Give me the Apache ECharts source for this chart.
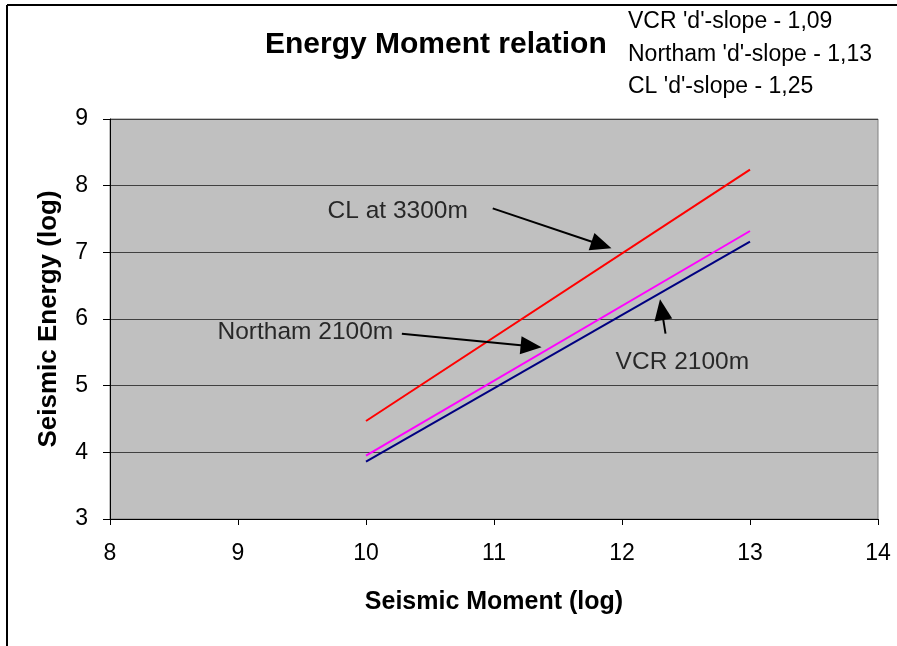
<!DOCTYPE html>
<html><head><meta charset="utf-8">
<script src="https://cdn.jsdelivr.net/npm/echarts@6/dist/echarts.min.js"></script>
<style>html,body{margin:0;padding:0;background:#fff}#c{width:897px;height:646px}</style>
</head><body><div id="c"></div>
<script>
// Data (log seismic moment vs log seismic energy)
const momentX = [10, 13];
const vcrY = [3.86, 7.16];
const northamY = [3.95, 7.32];
const clY = [4.47, 8.24];
const xTicks = [8, 9, 10, 11, 12, 13, 14];
const yTicks = [3, 4, 5, 6, 7, 8, 9];
const slopeTexts = ["VCR 'd'-slope - 1,09", "Northam 'd'-slope - 1,13", "CL 'd'-slope - 1,25"];
// annotation labels [x, y, text] in data units
const annoLabels = [[9.70, 7.62, 'CL at 3300m'], [8.84, 5.80, 'Northam 2100m'], [11.95, 5.35, 'VCR 2100m']];
// annotation arrows [[x1,y1],[x2,y2]] in data units (end = centre of arrowhead)
const annoArrows = [
  [[10.99, 7.66], [11.84, 7.11]],
  [[10.28, 5.78], [11.29, 5.59]],
  [[12.34, 5.78], [12.31, 6.14]]
];

const FONT = 'Liberation Sans, Arial, sans-serif';
const chart = echarts.init(document.getElementById('c'));
const pairs = ys => momentX.map((x, i) => [x, ys[i]]);

chart.setOption({
  animation: false,
  backgroundColor: '#fff',
  grid: { left: 110, right: 19, top: 119, bottom: 127, show: true, backgroundColor: '#C0C0C0', borderColor: '#808080', borderWidth: 1 },
  xAxis: {
    type: 'value', min: xTicks[0], max: xTicks[xTicks.length - 1], interval: 1,
    name: 'Seismic Moment (log)', nameLocation: 'middle', nameGap: 71,
    nameTextStyle: { fontFamily: FONT, fontWeight: 'bold', fontSize: 25, color: '#000' },
    axisLine: { lineStyle: { color: '#000', width: 1 } },
    axisTick: { show: true, length: 6, lineStyle: { color: '#000' } },
    axisLabel: { fontFamily: FONT, fontSize: 23, color: '#000', margin: 23 },
    splitLine: { show: false }
  },
  yAxis: {
    type: 'value', min: yTicks[0], max: yTicks[yTicks.length - 1], interval: 1,
    name: 'Seismic Energy (log)', nameLocation: 'middle', nameGap: 48,
    nameTextStyle: { fontFamily: FONT, fontWeight: 'bold', fontSize: 26, color: '#000' },
    axisLine: { show: true, lineStyle: { color: '#000', width: 1 } },
    axisTick: { show: true, length: 7, lineStyle: { color: '#000' } },
    axisLabel: { fontFamily: FONT, fontSize: 23, color: '#000', margin: 22 },
    splitLine: { show: true, lineStyle: { color: '#404040', width: 1 } }
  },
  series: [
    { name: 'VCR', type: 'line', data: pairs(vcrY), symbol: 'none', lineStyle: { color: '#000080', width: 2 }, silent: true },
    { name: 'Northam', type: 'line', data: pairs(northamY), symbol: 'none', lineStyle: { color: '#FF00FF', width: 2 }, silent: true },
    { name: 'CL', type: 'line', data: pairs(clY), symbol: 'none', lineStyle: { color: '#FF0000', width: 2 }, silent: true },
    {
      name: 'annotations', type: 'scatter', symbolSize: 0, silent: true,
      data: annoLabels,
      label: { show: true, position: [0, 0], align: 'left', verticalAlign: 'middle', formatter: p => p.data[2], fontFamily: FONT, fontSize: 24.5, color: '#000' },
      markLine: {
        silent: true, animation: false,
        symbol: ['none', 'triangle'], symbolSize: [18, 21],
        label: { show: false },
        lineStyle: { color: '#000', width: 2, type: 'solid' },
        itemStyle: { color: '#000' },
        data: annoArrows.map(a => [{ coord: a[0] }, { coord: a[1] }])
      }
    }
  ],
  graphic: [
    { type: 'line', shape: { x1: 7, y1: 5, x2: 897, y2: 5 }, style: { stroke: '#000', lineWidth: 2 } },
    { type: 'line', shape: { x1: 7, y1: 5, x2: 7, y2: 646 }, style: { stroke: '#000', lineWidth: 2 } },
    { type: 'text', left: 265, top: 30, style: { text: 'Energy Moment relation', font: 'bold 30px ' + FONT, fill: '#000' } },
    { type: 'text', left: 628, top: 10, style: { text: slopeTexts[0], font: '23px ' + FONT, fill: '#000' } },
    { type: 'text', left: 628, top: 43, style: { text: slopeTexts[1], font: '23px ' + FONT, fill: '#000' } },
    { type: 'text', left: 628, top: 75, style: { text: slopeTexts[2], font: '23px ' + FONT, fill: '#000' } }
  ]
});
</script></body></html>
